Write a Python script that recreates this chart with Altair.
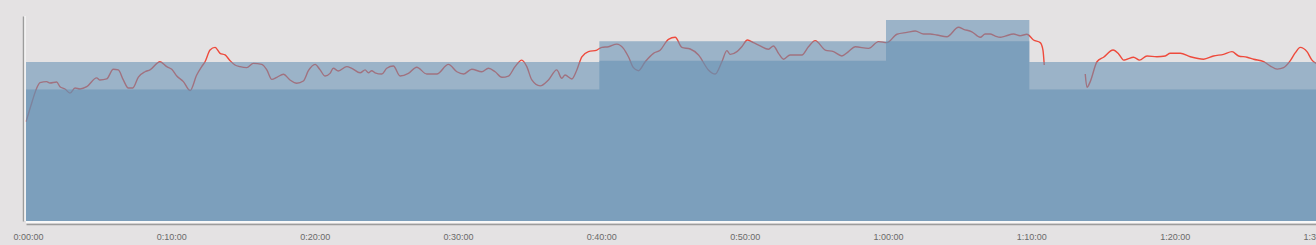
import altair as alt
import pandas as pd

# ---- data (minutes, intensity units) ----
zone_start = [0, 40, 60, 70, 90]
zone_low = [64.2, 78.2, 87.7, 64.2, 64.2]
zone_high = [77.6, 87.7, 98.0, 77.6, 77.6]

seg1_t = [0.00, 0.40, 0.75, 0.98, 1.44, 1.67, 2.14, 2.37, 2.72, 3.07, 3.42, 3.77, 4.24, 4.93, 5.16, 5.63,
          6.09, 6.44, 6.79, 7.14, 7.45, 7.84, 8.30, 8.65, 9.35, 9.82, 10.17, 10.52, 10.98, 11.45, 11.91,
          12.26, 12.49, 12.84, 13.19, 13.54, 13.89, 14.24, 14.58, 14.93, 15.40, 15.86, 16.45, 16.80, 17.15,
          17.50, 17.96, 18.42, 18.89, 19.35, 19.70, 20.17, 20.52, 20.87, 21.21, 21.44, 21.79, 22.38, 22.73,
          23.31, 23.66, 23.89, 24.12, 24.35, 24.82, 25.17, 25.63, 26.10, 26.68, 27.26, 27.96, 28.66, 29.47,
          30.06, 30.52, 31.10, 31.80, 32.26, 32.73, 33.20, 33.66, 34.12, 34.59, 34.94, 35.29, 35.87, 36.45,
          37.03, 37.38, 37.61, 38.08, 38.43, 38.78, 39.24, 39.83, 40.17, 40.64, 41.22, 41.68, 42.03, 42.38,
          42.73, 43.20, 43.78, 44.24, 44.82, 45.29, 45.76, 46.34, 46.92, 47.61, 48.08, 48.55, 48.90, 49.13,
          49.60, 49.94, 50.33, 50.75, 51.22, 51.80, 52.15, 52.50, 52.85, 53.31, 54.13, 54.59, 55.06, 55.76,
          56.34, 56.92, 57.38, 57.85, 58.78, 59.48, 60.06, 60.76, 61.46, 62.04, 62.62, 63.08, 63.55, 64.25,
          65.06, 65.41, 65.99, 66.57, 66.92, 67.27, 67.62, 67.97, 68.32, 68.90, 69.36, 69.83, 70.29, 70.76,
          70.95, 71.04]
seg1_v = [48.4, 57.6, 64.9, 67.5, 68.0, 67.3, 67.8, 65.5, 64.4, 62.4, 64.9, 64.4, 65.5, 69.8, 68.8, 69.3,
          74.0, 73.7, 68.8, 64.9, 64.9, 70.2, 72.8, 73.7, 77.7, 75.3, 74.0, 70.7, 68.0, 63.6, 71.2,
          75.3, 77.7, 83.4, 84.7, 81.8, 81.0, 78.2, 76.1, 75.3, 74.8, 76.9, 76.4, 73.7, 69.1,
          70.1, 71.6, 68.8, 67.2, 68.3, 73.3, 76.4, 73.7, 70.7, 72.0, 74.5, 73.2, 75.3, 74.5,
          72.3, 73.7, 72.3, 73.3, 72.3, 71.7, 74.5, 75.6, 70.7, 72.0, 75.0, 71.7, 71.7, 76.4,
          72.8, 71.7, 74.0, 72.8, 74.5, 72.8, 70.1, 70.7, 75.3, 78.5, 75.3, 68.8, 65.9, 68.8,
          73.7, 69.6, 71.2, 69.3, 73.7, 80.1, 82.6, 83.4, 84.7, 85.0, 86.3, 84.2, 80.1, 74.8,
          73.3, 77.7, 81.8, 83.3, 88.6, 89.6, 84.7, 83.9, 81.0, 73.7, 71.7, 77.7, 83.1, 81.3,
          82.6, 85.0, 88.3, 87.0, 85.4, 83.8, 85.4, 81.8, 78.9, 81.0, 81.0, 85.0, 88.0, 83.4,
          82.6, 80.5, 82.6, 85.0, 84.2, 87.5, 87.0, 91.1, 92.0, 92.7, 91.2, 91.2, 90.7, 89.9,
          94.5, 93.5, 92.3, 89.6, 91.2, 91.2, 90.2, 89.6, 90.2, 91.2, 90.4, 91.1, 88.3, 87.0,
          83.4, 76.1]

seg2_t = [73.90, 74.02, 74.25, 74.72, 75.18, 75.84, 76.23, 76.58, 76.81, 77.27, 77.69, 78.21, 78.90, 79.48,
          79.83, 80.53, 81.23, 82.16, 82.85, 83.55, 84.14, 84.60, 85.19, 85.65, 86.35, 86.82, 87.29, 87.74,
          88.21, 88.56, 88.90, 89.37, 89.72, 90.00]
seg2_v = [71.7, 65.2, 68.0, 77.7, 79.9, 83.4, 81.5, 78.5, 78.9, 79.9, 78.5, 80.5, 80.1, 80.5,
          81.8, 81.8, 80.1, 78.9, 80.5, 81.3, 82.6, 80.5, 79.9, 78.9, 77.7, 75.6, 74.1, 74.8,
          78.2, 82.1, 84.7, 82.6, 78.5, 76.9]

tick_values = [0, 10, 20, 30, 40, 50, 60, 70, 80, 90]

# ---- tables ----
zones = pd.DataFrame({"t": zone_start, "low": zone_low, "high": zone_high})
line = pd.concat([
    pd.DataFrame({"t": seg1_t, "v": seg1_v, "seg": 1}),
    pd.DataFrame({"t": seg2_t, "v": seg2_v, "seg": 2}),
], ignore_index=True)
frame = pd.DataFrame({"t": [0], "v0": [0], "v1": [100], "tend": [90]})

BLUE = "#6490b4"
x_scale = alt.Scale(domain=[0, 90], nice=False, zero=False)
y_scale = alt.Scale(domain=[0, 100], nice=False)

label_expr = ("floor(datum.value/60) + ':' + (datum.value%60 < 10 ? '0' : '') + "
              "(datum.value%60) + ':00'")

x_axis = alt.Axis(values=tick_values, labelExpr=label_expr, title=None, grid=False,
                  ticks=False, tickSize=0, labelPadding=8, labelFlush=False, labelOffset=2,
                  labelFont="Liberation Sans", labelFontSize=9, labelColor="#6a6a6a",
                  domainColor="#9c9c9c", domainWidth=1.5, offset=3)
y_axis = alt.Axis(labels=False, ticks=False, title=None, grid=False,
                  domainColor="#9c9c9c", domainWidth=1.5, offset=3)

line_layer = alt.Chart(line).mark_line(color="#ee4a3c", strokeWidth=1.4, interpolate="monotone").encode(
    x=alt.X("t:Q", scale=x_scale, axis=x_axis),
    y=alt.Y("v:Q", scale=y_scale, axis=y_axis),
    detail="seg:N",
)

area_high = alt.Chart(zones).mark_area(color=BLUE, opacity=0.57, interpolate="step-after").encode(
    x=alt.X("t:Q", scale=x_scale),
    y=alt.Y("high:Q", scale=y_scale),
    y2=alt.datum(0),
)
area_low = alt.Chart(zones).mark_area(color=BLUE, opacity=0.57, interpolate="step-after").encode(
    x=alt.X("t:Q", scale=x_scale),
    y=alt.Y("low:Q", scale=y_scale),
    y2=alt.datum(0),
)

white_v = alt.Chart(frame).mark_rule(color="white", strokeWidth=1, xOffset=-1).encode(
    x=alt.X("t:Q", scale=x_scale),
    y=alt.Y("v1:Q", scale=y_scale),
    y2=alt.Y2("v0:Q"),
)
white_h = alt.Chart(frame).mark_rule(color="white", strokeWidth=1.5, yOffset=1).encode(
    x=alt.X("t:Q", scale=x_scale),
    x2=alt.X2("tend:Q"),
    y=alt.Y("v0:Q", scale=y_scale),
)

chart = alt.layer(line_layer, area_high, area_low, white_v, white_h).properties(
    width=1290, height=205,
    autosize=alt.AutoSizeParams(type="none"),
    padding={"left": 26, "top": 16, "right": 0, "bottom": 24},
    background="#e4e2e3",
).configure_view(stroke=None)

chart.save("out.html", embed_options={"renderer": "svg", "actions": False})
